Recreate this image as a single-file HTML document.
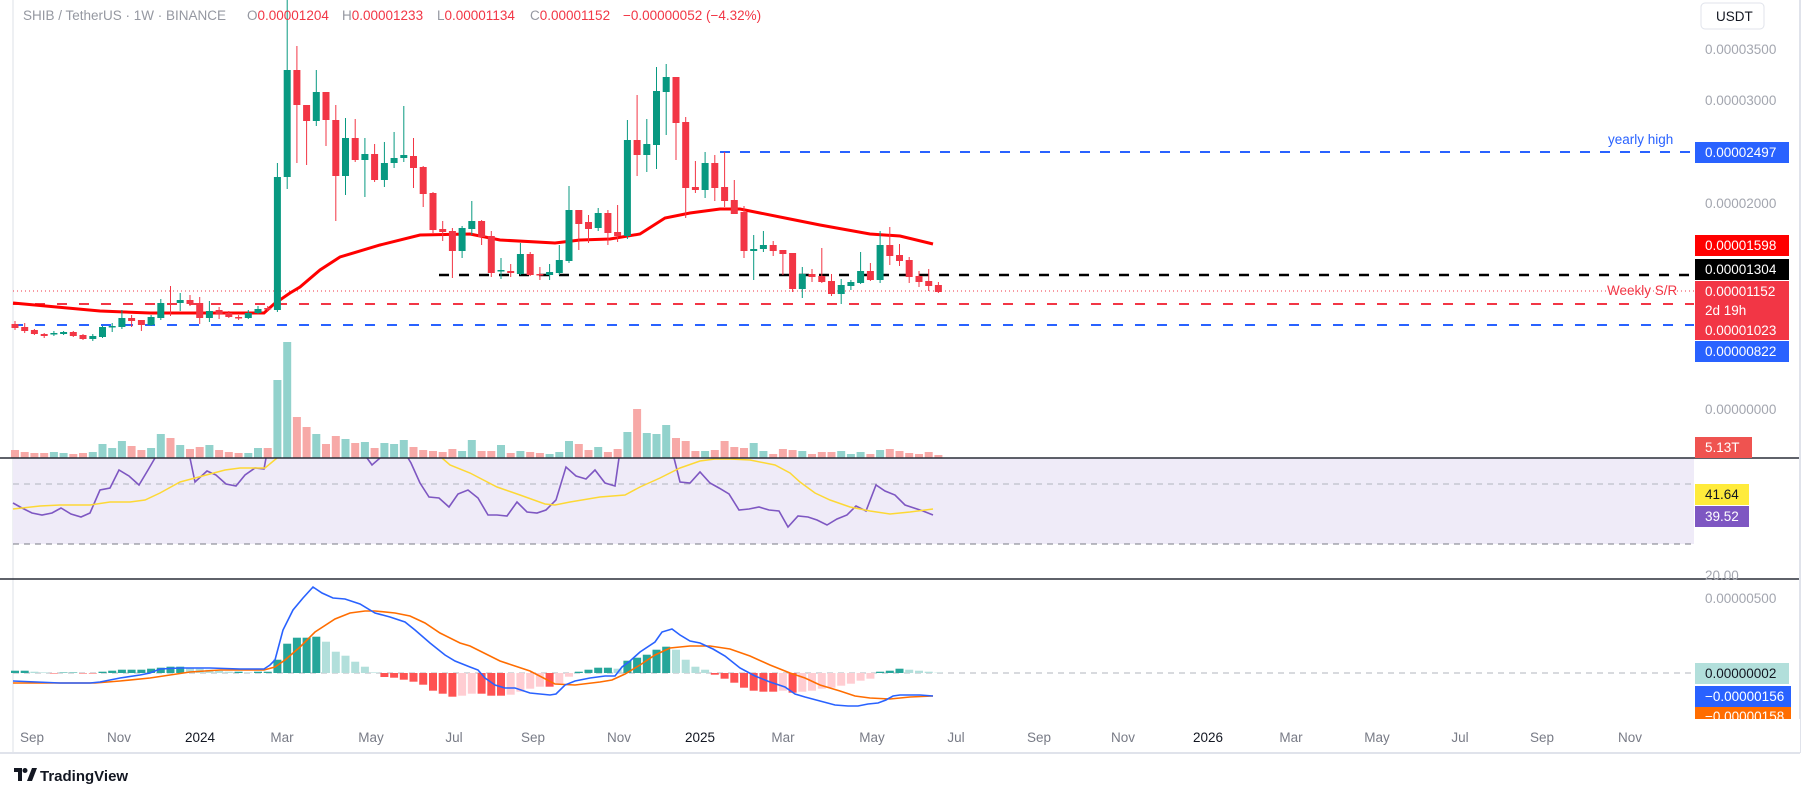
<!DOCTYPE html>
<html><head><meta charset="utf-8">
<style>
html,body{margin:0;padding:0;background:#fff;}
body{width:1814px;height:798px;position:relative;overflow:hidden;font-family:"Liberation Sans",sans-serif;}
svg{position:absolute;left:0;top:0;}
.t{font-family:"Liberation Sans",sans-serif;}
</style></head><body>
<svg id="c" width="1814" height="798" xmlns="http://www.w3.org/2000/svg">
<rect x="0" y="0" width="1814" height="798" fill="#fff"/>
<line x1="13" y1="0" x2="13" y2="753" stroke="#eef0f3" stroke-width="2"/>
<rect x="13" y="458" width="1681" height="86" fill="#efebf8"/>
<line x1="13" y1="484" x2="1694" y2="484" stroke="#b2b5be" stroke-dasharray="6,5"/>
<line x1="13" y1="544" x2="1694" y2="544" stroke="#787b86" stroke-dasharray="6,5"/>
<line x1="13" y1="673" x2="1694" y2="673" stroke="#b2b5be" stroke-dasharray="6,5"/>
<g id="vol"></g>
<g id="lines1">
<line x1="720" y1="152" x2="1694" y2="152" stroke="#2962ff" stroke-width="2" stroke-dasharray="10,10"/>
<line x1="439" y1="275" x2="1694" y2="275" stroke="#000" stroke-width="2.5" stroke-dasharray="10,10"/>
<line x1="13" y1="291" x2="1694" y2="291" stroke="#f23645" stroke-width="1" stroke-dasharray="1,3"/>
<line x1="13" y1="304" x2="1694" y2="304" stroke="#f23645" stroke-width="2" stroke-dasharray="10,12"/>
<line x1="13" y1="325" x2="1694" y2="325" stroke="#2962ff" stroke-width="2" stroke-dasharray="10,12"/>
</g>
<polyline fill="none" stroke="#ff0000" stroke-width="3" points="13,303 100,311 150,313 200,313 264,313 274,304 290,293 300,287 320,270 340,257 380,245 420,235 470,234 500,240 555,243 580,240 610,239 640,234 665,218 690,213 720,209 740,209 760,213 790,219 820,225 870,234 900,236 933,244"/>
<g id="candles"></g>
<g id="macdh"></g>
<polyline fill="none" stroke="#7e57c2" stroke-width="1.6" points="13,503 22,508 32,513 42,515 52,513 61,508 71,514 81,517 90,513 100,490 110,488 119,470 129,476 139,485 148,470 155,458"/>
<polyline fill="none" stroke="#7e57c2" stroke-width="1.6" points="190,458 195,482 207,471 216,475 226,484 236,486 245,475 255,468 264,469 266,458"/>
<polyline fill="none" stroke="#7e57c2" stroke-width="1.6" points="367,458 372,465 380,458"/>
<polyline fill="none" stroke="#7e57c2" stroke-width="1.6" points="408,458 411,463 420,483 429,497 439,498 449,507 458,494 468,490 478,498 488,515 497,515 507,516 517,502 527,512 537,513 546,510 556,500 566,467 576,476 586,479 595,470 605,483 615,486 619,458"/>
<polyline fill="none" stroke="#7e57c2" stroke-width="1.6" points="674,458 680,482 690,483 700,472 710,483 719,488 729,494 739,510 749,509 759,507 769,510 779,511 788,527 798,516 808,517 817,520 827,525 837,519 847,515 856,506 866,511 876,485 885,491 895,495 905,505 914,508 923,511 933,515"/>
<polyline fill="none" stroke="#fdd835" stroke-width="1.5" points="13,509 40,506 60,505 90,505 110,502 130,502 145,500 160,493 180,482 195,478 210,474 225,470 240,468 265,468 277,458"/>
<polyline fill="none" stroke="#fdd835" stroke-width="1.5" points="442,458 450,465 470,473 497,487 520,495 545,504 555,505 570,502 600,497 625,495 640,487 660,478 680,468 700,461 715,459 730,459 750,460 775,465 790,473 800,482 815,493 830,500 850,507 870,511 890,514 910,512 933,509"/>
<polyline fill="none" stroke="#ff6d00" stroke-width="1.6" points="13,683 60,683 95,683 120,681 150,678 190,672 220,670 264,670 275,667 285,660 300,647 315,632 335,619 350,613 365,611 375,611 395,613 410,616 425,623 440,633 460,643 470,646 500,661 530,671 555,684 575,685 600,682 612,680 625,674 640,665 655,655 670,648 690,646 710,646 730,649 750,656 770,665 790,673 805,678 820,685 840,691 855,696 870,698 890,699 910,697 933,696"/>
<polyline fill="none" stroke="#2962ff" stroke-width="1.6" points="13,681 60,683 90,683 100,682 120,678 140,675 150,673 160,669 180,668 210,668 240,669 264,669 270,665 275,660 283,630 293,610 303,598 313,587 322,593 333,598 345,599 360,604 375,613 390,617 405,622 415,630 430,643 445,655 455,661 470,667 478,670 485,678 495,685 505,688 515,688 530,693 550,695 556,694 565,685 575,681 590,678 605,676 615,676 622,667 630,661 640,652 655,642 662,632 672,629 680,635 690,641 700,643 713,649 725,656 740,668 755,676 770,682 785,687 795,694 805,697 820,701 835,705 848,706 858,706 868,704 878,703 886,700 893,696 900,695 920,695 933,696"/>
<line x1="0" y1="458" x2="1800" y2="458" stroke="#2a2e39" stroke-width="1.5"/>
<line x1="0" y1="579" x2="1800" y2="579" stroke="#2a2e39" stroke-width="1.5"/>
<line x1="0" y1="753" x2="1800" y2="753" stroke="#e0e3eb" stroke-width="2"/>
<line x1="1800" y1="0" x2="1800" y2="753" stroke="#e0e3eb" stroke-width="2"/>
<g class="t" font-size="13.5" fill="#a3a6af">
<text x="1705" y="54">0.00003500</text>
<text x="1705" y="105">0.00003000</text>
<text x="1705" y="208">0.00002000</text>
<text x="1705" y="414">0.00000000</text>
<text x="1705" y="580">20.00</text>
<text x="1705" y="603">0.00000500</text>
</g>
<rect x="1701" y="3" width="63" height="26" rx="4" fill="#fff" stroke="#e0e3eb"/>
<text class="t" x="1716" y="21" font-size="13.5" fill="#131722">USDT</text>
<text class="t" x="1608" y="144" font-size="13.5" fill="#2962ff">yearly high</text>
<text class="t" x="1607" y="295" font-size="13.5" fill="#f23645">Weekly S/R</text>
<g class="t" font-size="13.5">
<rect x="1695" y="142" width="94" height="21" fill="#2962ff"/><text x="1705" y="157" fill="#fff">0.00002497</text>
<rect x="1695" y="235" width="94" height="21" fill="#ff0000"/><text x="1705" y="250" fill="#fff">0.00001598</text>
<rect x="1695" y="259" width="94" height="21" fill="#000"/><text x="1705" y="274" fill="#fff">0.00001304</text>
<rect x="1695" y="281" width="94" height="59" fill="#f23645"/>
<text x="1705" y="296" fill="#fff">0.00001152</text>
<text x="1705" y="315" fill="#fff">2d 19h</text>
<text x="1705" y="335" fill="#fff">0.00001023</text>
<rect x="1695" y="341" width="94" height="21" fill="#2962ff"/><text x="1705" y="356" fill="#fff">0.00000822</text>
<rect x="1695" y="437" width="57" height="21" fill="#ef5350"/><text x="1705" y="452" fill="#fff">5.13T</text>
<rect x="1695" y="484" width="54" height="21" fill="#ffeb3b"/><text x="1705" y="499" fill="#131722">41.64</text>
<rect x="1695" y="506" width="54" height="21" fill="#7e57c2"/><text x="1705" y="521" fill="#fff">39.52</text>
<rect x="1695" y="663" width="94" height="21" fill="#b2dfdb"/><text x="1705" y="678" fill="#131722">0.00000002</text>
<rect x="1695" y="706" width="96" height="13" fill="#ff6d00"/><text x="1705" y="721" fill="#fff">−0.00000158</text>
<rect x="1695" y="686" width="96" height="21" fill="#2962ff"/><text x="1705" y="701" fill="#fff">−0.00000156</text>
</g>
<rect x="1694" y="719" width="106" height="33" fill="#fff"/>
<g class="t" font-size="13.5" fill="#787b86" text-anchor="middle">
<text x="32" y="742">Sep</text><text x="119" y="742">Nov</text><text x="200" y="742" fill="#131722">2024</text>
<text x="282" y="742">Mar</text><text x="371" y="742">May</text><text x="454" y="742">Jul</text>
<text x="533" y="742">Sep</text><text x="619" y="742">Nov</text><text x="700" y="742" fill="#131722">2025</text>
<text x="783" y="742">Mar</text><text x="872" y="742">May</text><text x="956" y="742">Jul</text>
<text x="1039" y="742">Sep</text><text x="1123" y="742">Nov</text><text x="1208" y="742" fill="#131722">2026</text>
<text x="1291" y="742">Mar</text><text x="1377" y="742">May</text><text x="1460" y="742">Jul</text>
<text x="1542" y="742">Sep</text><text x="1630" y="742">Nov</text>
</g>
<text class="t" x="23" y="20" font-size="13.5" fill="#9598a1">SHIB / TetherUS · 1W · BINANCE <tspan x="247">O</tspan><tspan fill="#f23645">0.00001204</tspan><tspan x="342">H</tspan><tspan fill="#f23645">0.00001233</tspan><tspan x="437">L</tspan><tspan fill="#f23645">0.00001134</tspan><tspan x="530">C</tspan><tspan fill="#f23645">0.00001152</tspan><tspan x="623" fill="#f23645">−0.00000052 (−4.32%)</tspan></text>
<g transform="translate(14,768)">
<path d="M0 0 H8 V13 H4 V4 H0 Z" fill="#131722"/>
<circle cx="11" cy="2.5" r="2.5" fill="#131722"/>
<path d="M13 13 L18 0 H23 L18 13 Z" fill="#131722"/>
</g>
<text class="t" x="40" y="781" font-size="15" font-weight="bold" fill="#131722">TradingView</text>
</svg>
<script>
(function(){
var C=[[324,328,321,330],[327,331,323,333],[330,334,329,335],[334,336,333,338],[334,333,331,336],[334,332,331,335],[332,336,331,337],[335,339,334,340],[339,336,334,341],[337,327,326,338],[327,326,323,332],[327,318,310,329],[318,321,315,327],[320,325,320,331],[325,317,315,326],[318,303,299,320],[303,304,286,316],[303,300,293,311],[300,304,295,306],[303,318,297,324],[318,311,301,322],[310,314,307,319],[313,317,311,318],[317,318,315,320],[318,313,310,319],[313,309,306,314],[308,309,306,311],[310,177,163,312],[177,70,0,189],[70,105,46,163],[105,121,105,165],[121,92,70,126],[92,120,92,146],[120,176,105,221],[176,138,118,195],[138,160,119,162],[160,154,138,197],[154,180,144,182],[180,163,142,187],[163,158,132,168],[158,155,106,162],[156,168,138,188],[167,194,166,207],[193,230,192,233],[229,232,221,241],[231,251,228,278],[251,228,226,258],[229,221,201,235],[221,237,220,245],[236,273,231,277],[271,270,258,279],[271,273,264,277],[274,254,243,275],[254,275,252,276],[274,275,267,280],[275,272,264,280],[273,260,245,275],[261,210,186,263],[210,224,210,250],[222,229,215,243],[228,213,208,231],[213,233,210,245],[232,236,205,242],[236,140,120,239],[140,155,95,176],[155,144,119,172],[145,91,67,169],[92,77,64,135],[77,123,77,160],[122,188,117,218],[187,190,161,193],[190,163,152,198],[163,188,155,201],[187,201,152,207],[200,214,180,214],[212,251,206,258],[251,249,235,280],[249,245,231,252],[245,251,241,256],[250,254,250,275],[253,289,253,292],[289,274,267,298],[274,277,269,282],[276,282,248,283],[281,294,274,296],[294,285,279,304],[286,282,280,290],[283,271,252,284],[271,280,263,281],[280,245,231,283],[245,256,227,265],[255,261,244,266],[260,277,257,283],[276,282,271,287],[281,286,269,291],[285,292,282,293]];
var V=[8,6,5,5,6,5,4,5,6,14,10,17,12,8,10,24,20,13,9,11,13,8,6,5,5,10,10,78,116,41,31,24,14,22,19,15,16,10,15,14,18,11,8,7,6,9,7,18,7,7,13,5,7,6,5,4,6,17,14,8,11,6,9,26,49,25,24,33,20,17,7,7,8,17,11,10,15,7,4,9,8,7,4,6,6,7,4,6,4,8,9,7,5,4,6,3];
var M=[2.3,2.3,1.3,0,-0.5,0.5,0.5,-0.5,-0.5,1.3,2.3,3.3,3.3,3.3,4.3,5.3,6.3,6.3,5.3,4.3,3.3,2.3,1.3,1.3,0.7,1.3,1.3,13.3,29.3,35.3,35.3,36.3,31.3,21.3,17.3,11.3,6.3,0,-4,-4.7,-6.7,-8.7,-11.7,-17.7,-20.7,-23.7,-22.7,-20.7,-20.7,-22.7,-22.7,-21.7,-18.7,-15.7,-13.7,-13.7,-10.7,-3.7,1.3,3.3,5.3,5.3,4.3,12.3,15.3,18.3,23.3,26.3,23.3,13.3,6.3,3.3,-1.7,-5.7,-9.7,-14.7,-17.7,-18.7,-18.7,-17.7,-19.7,-18.7,-17.7,-15.7,-14.7,-12.7,-10.7,-7.7,-5.7,1.3,2.3,4.3,3.3,2.3,1.3,0.3];
var ns="http://www.w3.org/2000/svg";
function el(g,t,a){var e=document.createElementNS(ns,t);for(var k in a)e.setAttribute(k,a[k]);g.appendChild(e);}
var gc=document.getElementById("candles"),gv=document.getElementById("vol"),gm=document.getElementById("macdh");
for(var i=0;i<C.length;i++){
 var x=15+i*9.72,c=C[i],up=c[1]<=c[0],col=up?"#089981":"#f23645";
 el(gc,"rect",{x:(x-0.5).toFixed(1),y:c[2],width:1,height:Math.max(1,c[3]-c[2]),fill:col});
 var bt=Math.min(c[0],c[1]),h=Math.max(1.5,Math.abs(c[0]-c[1]));
 el(gc,"rect",{x:(x-3.5).toFixed(1),y:bt,width:7,height:h,fill:col});
 el(gv,"rect",{x:(x-4).toFixed(1),y:458-V[i],width:8,height:V[i],fill:up?"#92d2cc":"#f7a9a7"});
 var m=M[i],p=i>0?M[i-1]:0,mc;
 if(m>=0)mc=(m>=p)?"#26a69a":"#b2dfdb";else mc=(m<=p)?"#ff5252":"#ffcdd2";
 if(Math.abs(m)<0.3)m=m<0?-0.6:0.6;
 el(gm,"rect",{x:(x-4).toFixed(1),y:m>0?673-m:673,width:8,height:Math.abs(m),fill:mc});
}
})();
</script>
</body></html>
